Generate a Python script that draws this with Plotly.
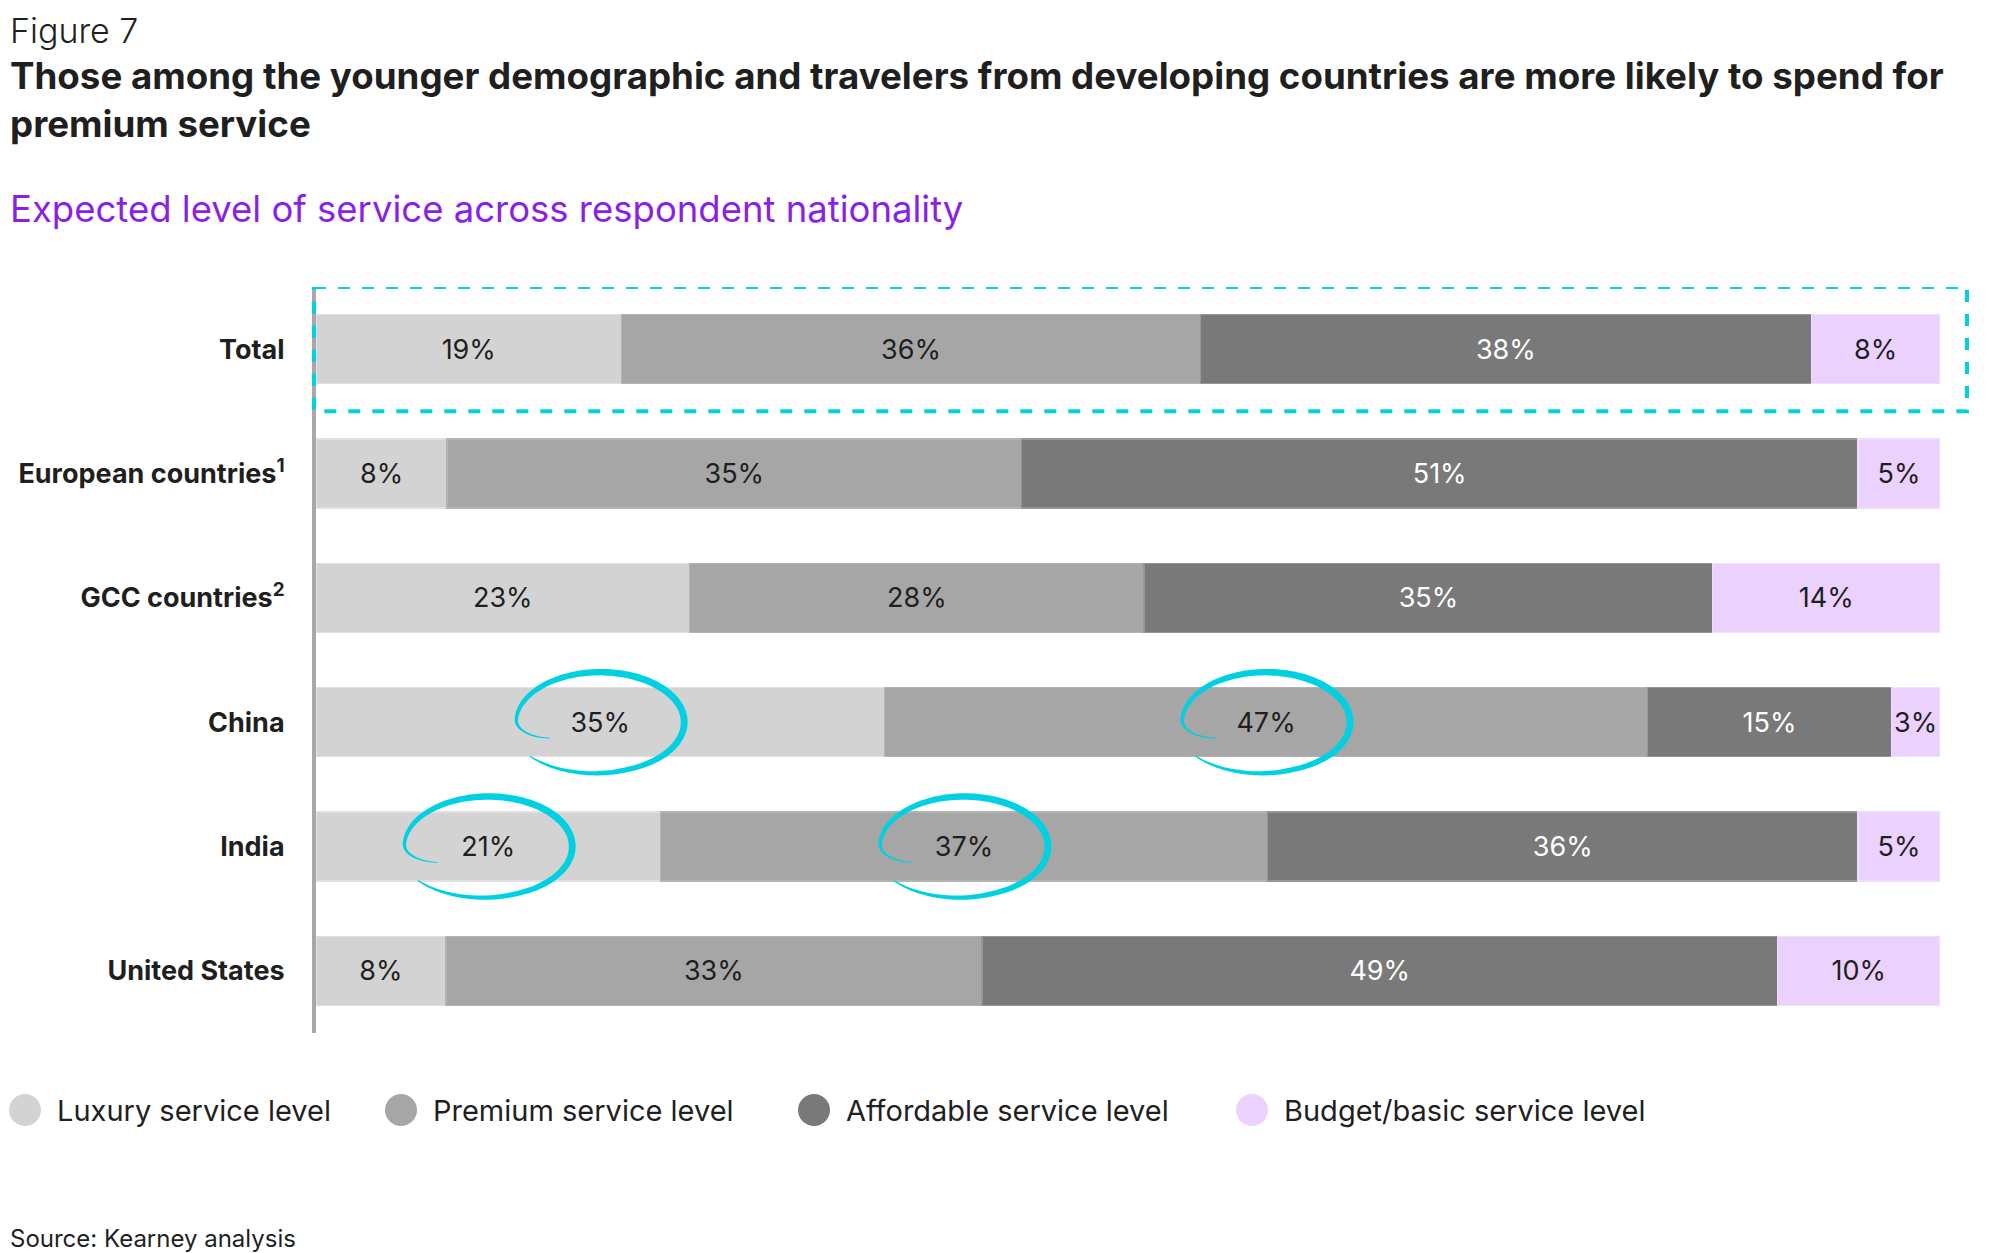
import numpy as np
import plotly.graph_objects as go

# -----------------------------
# data
# -----------------------------
countries = ["Total", "European countries<sup>1</sup>", "GCC countries<sup>2</sup>",
             "China", "India", "United States"]
levels = ["Luxury service level", "Premium service level",
          "Affordable service level", "Budget/basic service level"]
luxury = [19, 8, 23, 35, 21, 8]
premium = [36, 35, 28, 47, 37, 33]
affordable = [38, 51, 35, 15, 36, 49]
budget = [8, 5, 14, 3, 5, 10]

# labels circled by hand in the original: (row, level)
highlights = [(3, 0), (3, 1), (4, 0), (4, 1)]

# -----------------------------
# styling
# -----------------------------
FONT = "Inter"
INK = "#1f1f1f"
CYAN = "#00d1e2"
PURPLE = "#8b1fe8"
colors = ["#d3d3d3", "#a6a6a6", "#797979", "#ebd1fd"]
edge_colors = ["#e0e0e0", "#b3b3b3", "#969696", "#f1defd"]
text_colors = [INK, INK, "#ffffff", INK]

W, H = 2000, 1253
OFF = 8  # the page puts the figure 8px in from the top-left corner
# plot area wanted on screen: x 316..1940, y 287..1033
ML, MT = 316 - OFF, 287 - OFF
MR, MB = W - (1940 - OFF), H - (1033 - OFF)
pw, ph = W - ML - MR, H - MT - MB


def paper_x(px):
    return (px - OFF - ML) / pw


def paper_y(py):
    return 1 - (py - OFF - MT) / ph


def scribble(a=84, b=50, n=140):
    """hand-drawn loop as a filled, tapering stroke (pixel offsets)"""
    t = np.linspace(0, 1, n)
    th = np.radians(208 - 349 * t)
    r = 1 - 0.32 * np.clip(1 - t / 0.09, 0, 1) ** 2 + 0.08 * np.clip((t - 0.8) / 0.2, 0, 1)
    w = 1.0 + 6.0 * np.sin(np.pi * t) ** 0.7
    cx, cy = a * r * np.cos(th), b * r * np.sin(th)
    nx, ny = np.cos(th) / a, np.sin(th) / b
    nn = np.hypot(nx, ny)
    nx, ny = nx / nn, ny / nn
    ox, oy = cx + w / 2 * nx, cy + w / 2 * ny
    ix, iy = cx - w / 2 * nx, cy - w / 2 * ny
    pts = list(zip(ox, oy)) + list(zip(ix[::-1], iy[::-1]))
    return "M " + " L ".join(f"{x:.1f},{y:.1f}" for x, y in pts) + " Z"


series = [luxury, premium, affordable, budget]
rows = list(range(len(countries)))

fig = go.Figure()
for name, vals, col, ecol, tcol in zip(levels, series, colors, edge_colors, text_colors):
    fig.add_trace(go.Bar(
        y=rows, x=vals, orientation="h", name=name,
        marker=dict(color=col, line=dict(color=ecol, width=1.5)),
        text=[f"{v}%" for v in vals],
        textposition="inside", insidetextanchor="middle", textangle=0,
        textfont=dict(family=FONT, size=27, color=tcol),
        hoverinfo="skip", showlegend=False,
    ))

# dashed box around the Total row
shapes = [dict(type="rect", xref="paper", yref="y",
               x0=paper_x(314), x1=paper_x(1967), y0=-0.5, y1=0.5,
               line=dict(color=CYAN, width=4, dash="12px,12px"), layer="above")]

# hand-drawn circles, anchored at the centre of the (normalised) segment
loop = scribble()
for row, lev in highlights:
    total = sum(s[row] for s in series)
    before = sum(series[k][row] for k in range(lev))
    centre = (before + series[lev][row] / 2) / total * 100
    shapes.append(dict(type="path", xref="x", yref="y",
                       xsizemode="pixel", ysizemode="pixel",
                       xanchor=centre, yanchor=row, path=loop,
                       fillcolor=CYAN, line=dict(width=0), layer="above"))

# legend (round swatches like the original)
legend_x = [25, 401, 814, 1252]
legend_y = 1110
annotations = []
for name, col, lx in zip(levels, colors, legend_x):
    shapes.append(dict(type="circle", xref="paper", yref="paper",
                       x0=paper_x(lx - 16), x1=paper_x(lx + 16),
                       y0=paper_y(legend_y + 16), y1=paper_y(legend_y - 16),
                       fillcolor=col, line=dict(width=0)))
    annotations.append(dict(xref="paper", yref="paper", x=paper_x(lx + 30), y=paper_y(legend_y),
                            xanchor="left", yanchor="middle", showarrow=False, text=name,
                            font=dict(family=FONT, size=29, color=INK)))

# header and footer texts
annotations += [
    dict(xref="paper", yref="paper", x=paper_x(OFF), y=paper_y(OFF), xanchor="left", yanchor="top",
         showarrow=False, text="Figure 7", font=dict(family=FONT, size=34, color=INK, weight=300)),
    dict(xref="paper", yref="paper", x=paper_x(OFF), y=paper_y(51), xanchor="left", yanchor="top",
         showarrow=False, align="left",
         text="Those among the younger demographic and travelers from developing countries are more likely to spend for<br>premium service",
         font=dict(family=FONT, size=36.7, color=INK, weight="bold")),
    dict(xref="paper", yref="paper", x=paper_x(OFF), y=paper_y(209), xanchor="left", yanchor="middle",
         showarrow=False, text="Expected level of service across respondent nationality",
         font=dict(family=FONT, size=36.5, color=PURPLE)),
    dict(xref="paper", yref="paper", x=paper_x(OFF), y=paper_y(1238), xanchor="left", yanchor="middle",
         showarrow=False, text="Source: Kearney analysis",
         font=dict(family=FONT, size=24, color=INK)),
]

fig.update_layout(
    width=W, height=H,
    margin=dict(l=ML, r=MR, t=MT, b=MB),
    paper_bgcolor="white", plot_bgcolor="white",
    barmode="stack", barnorm="percent", bargap=0.445,
    uniformtext=dict(minsize=27, mode="show"),
    xaxis=dict(range=[0, 100], visible=False, fixedrange=True, automargin=False),
    yaxis=dict(tickvals=rows, ticktext=countries, range=[5.5, -0.5], automargin=False,
               showline=True, linecolor="#a8a8a8", linewidth=4,
               showgrid=False, zeroline=False, ticks="", ticklabelstandoff=22,
               tickfont=dict(family=FONT, size=27, color=INK, weight="bold")),
    shapes=shapes, annotations=annotations,
    showlegend=False,
)

fig.write_html("out.html")
